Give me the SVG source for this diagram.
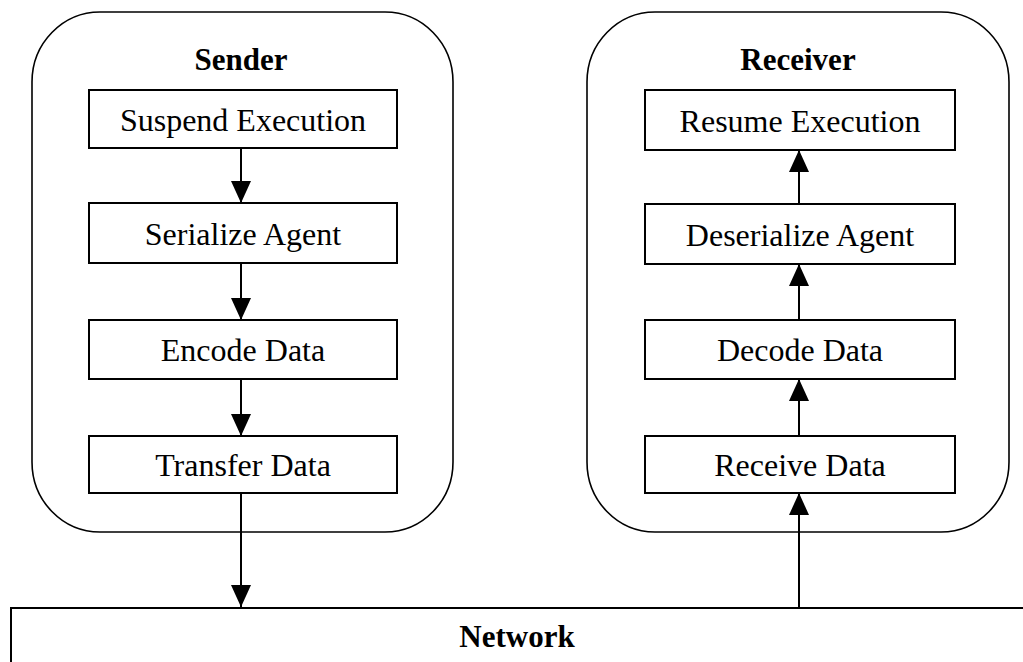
<svg xmlns="http://www.w3.org/2000/svg" width="1023" height="662" viewBox="0 0 1023 662">
<style>
.bg{fill:#fff}
.group{fill:none;stroke:#000;stroke-width:1.6}
.box{fill:#fff;stroke:#000;stroke-width:2}
.t{font-family:"Liberation Serif","Times New Roman",serif;font-size:32px;fill:#000;text-anchor:middle}
.b{font-family:"Liberation Serif","Times New Roman",serif;font-size:31px;font-weight:bold;fill:#000;text-anchor:middle}
.edge{stroke:#000;stroke-width:2;fill:none}
</style>
<defs>
<marker id="ah" viewBox="0 0 22 20" refX="22" refY="10" markerWidth="22" markerHeight="20" markerUnits="userSpaceOnUse" orient="auto">
<path d="M0,0 L22,10 L0,20 Z" fill="#000"/>
</marker>
</defs>
<rect class="bg" x="0" y="0" width="1023" height="662"/>
<g id="sender">
<rect class="group" x="32" y="12" width="421" height="520" rx="68" ry="70"/>
<text class="b" x="241" y="70">Sender</text>
</g>
<g id="receiver">
<rect class="group" x="587" y="12" width="422" height="520" rx="68" ry="70"/>
<text class="b" x="798" y="70">Receiver</text>
</g>
<g id="suspend">
<rect class="box" x="89" y="90" width="308" height="58"/>
<text class="t" x="243" y="131">Suspend Execution</text>
</g>
<g id="serialize">
<rect class="box" x="89" y="203" width="308" height="60"/>
<text class="t" x="243" y="245">Serialize Agent</text>
</g>
<g id="encode">
<rect class="box" x="89" y="320" width="308" height="59"/>
<text class="t" x="243" y="361">Encode Data</text>
</g>
<g id="transfer">
<rect class="box" x="89" y="436" width="308" height="57"/>
<text class="t" x="243" y="476">Transfer Data</text>
</g>
<g id="resume">
<rect class="box" x="645" y="90" width="310" height="60"/>
<text class="t" x="800" y="132">Resume Execution</text>
</g>
<g id="deserialize">
<rect class="box" x="645" y="204" width="310" height="60"/>
<text class="t" x="800" y="246">Deserialize Agent</text>
</g>
<g id="decode">
<rect class="box" x="645" y="320" width="310" height="59"/>
<text class="t" x="800" y="361">Decode Data</text>
</g>
<g id="receive">
<rect class="box" x="645" y="436" width="310" height="57"/>
<text class="t" x="800" y="476">Receive Data</text>
</g>
<g id="network">
<path d="M11,662 L11,608 L1023,608" fill="#fff" stroke="#000" stroke-width="2"/>
<text class="b" x="517" y="647">Network</text>
</g>
<g id="connectors">
<line class="edge" x1="241" y1="148" x2="241" y2="203" marker-end="url(#ah)"/>
<line class="edge" x1="241" y1="263" x2="241" y2="320" marker-end="url(#ah)"/>
<line class="edge" x1="241" y1="379" x2="241" y2="436" marker-end="url(#ah)"/>
<line class="edge" x1="241" y1="493" x2="241" y2="607" marker-end="url(#ah)"/>
<line class="edge" x1="799" y1="608" x2="799" y2="493" marker-end="url(#ah)"/>
<line class="edge" x1="799" y1="436" x2="799" y2="379" marker-end="url(#ah)"/>
<line class="edge" x1="799" y1="320" x2="799" y2="264" marker-end="url(#ah)"/>
<line class="edge" x1="799" y1="204" x2="799" y2="150" marker-end="url(#ah)"/>
</g>
</svg>
